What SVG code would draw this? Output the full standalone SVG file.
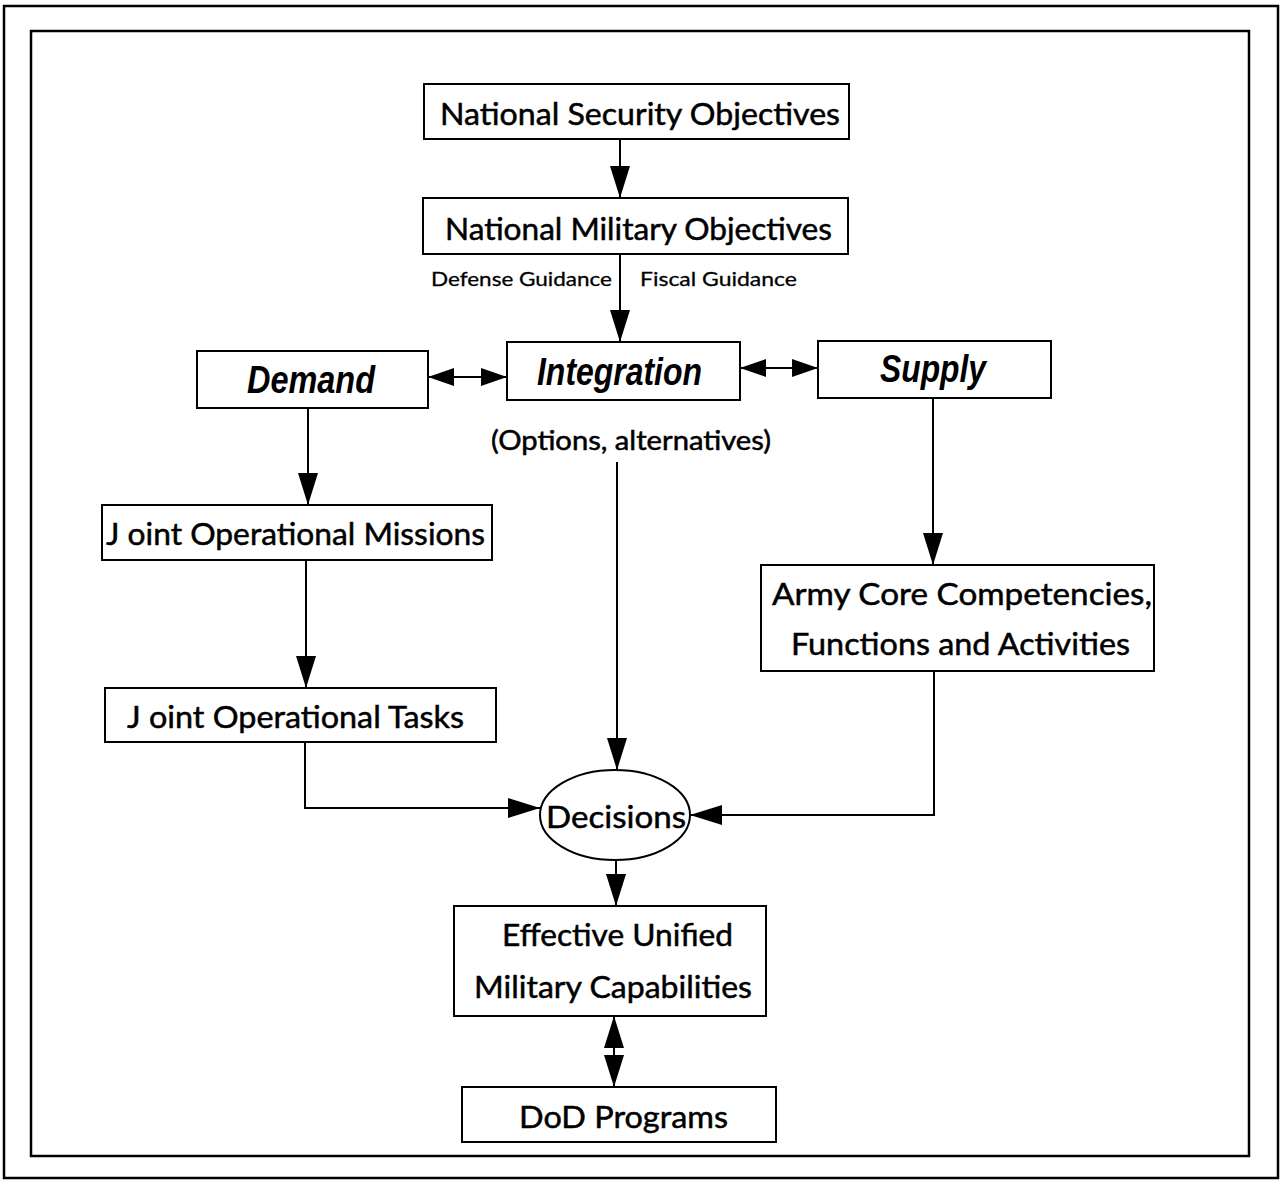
<svg xmlns="http://www.w3.org/2000/svg" width="1281" height="1180" viewBox="0 0 1281 1180">
<defs>
<style>
.box{fill:#fff;stroke:#000;stroke-width:2}
.t{font-family:Lato,"Open Sans","Liberation Sans",sans-serif;font-size:31px;fill:#000;stroke:#000;stroke-width:0.5}
.s{font-family:Lato,"Open Sans","Liberation Sans",sans-serif;font-size:20px;fill:#000;stroke:#000;stroke-width:0.3}
.b{font-family:"Liberation Sans",Arial,sans-serif;font-size:38px;font-weight:bold;font-style:italic;fill:#000}
.c{fill:none;stroke:#000;stroke-width:2}
</style>
<marker id="ah" viewBox="0 0 32 20" refX="32" refY="10" markerWidth="32" markerHeight="20" markerUnits="userSpaceOnUse" orient="auto-start-reverse">
<path d="M0,0 L32,10 L0,20 Z" fill="#000"/>
</marker>
<marker id="ah2" viewBox="0 0 26 18" refX="26" refY="9" markerWidth="26" markerHeight="18" markerUnits="userSpaceOnUse" orient="auto-start-reverse">
<path d="M0,0 L26,9 L0,18 Z" fill="#000"/>
</marker>
</defs>
<rect width="1281" height="1180" fill="#fff"/>
<rect x="4" y="6" width="1274" height="1172" fill="none" stroke="#000" stroke-width="2.5"/>
<rect x="31" y="31" width="1218" height="1125" fill="none" stroke="#000" stroke-width="2.5"/>

<g id="connectors">
<line class="c" x1="620" y1="139" x2="620" y2="198" marker-end="url(#ah)"/>
<line class="c" x1="620" y1="254" x2="620" y2="342" marker-end="url(#ah)"/>
<line class="c" x1="428" y1="377" x2="507" y2="377" marker-start="url(#ah2)" marker-end="url(#ah2)"/>
<line class="c" x1="740" y1="368" x2="818" y2="368" marker-start="url(#ah2)" marker-end="url(#ah2)"/>
<line class="c" x1="308" y1="408" x2="308" y2="505" marker-end="url(#ah)"/>
<line class="c" x1="306" y1="560" x2="306" y2="688" marker-end="url(#ah)"/>
<polyline class="c" points="305,742 305,808 540,808" marker-end="url(#ah)"/>
<line class="c" x1="617" y1="462" x2="617" y2="770" marker-end="url(#ah)"/>
<line class="c" x1="933" y1="398" x2="933" y2="565" marker-end="url(#ah)"/>
<polyline class="c" points="934,671 934,815 690,815" marker-end="url(#ah)"/>
<line class="c" x1="616" y1="860" x2="616" y2="906" marker-end="url(#ah)"/>
<line class="c" x1="614" y1="1016" x2="614" y2="1087" marker-start="url(#ah)" marker-end="url(#ah)"/>
</g>

<g id="nso">
<rect class="box" x="424" y="84" width="425" height="55"/>
<text class="t" x="440" y="125" textLength="400" lengthAdjust="spacingAndGlyphs">National Security Objectives</text>
</g>
<g id="nmo">
<rect class="box" x="423" y="198" width="425" height="56"/>
<text class="t" x="445" y="240" textLength="387" lengthAdjust="spacingAndGlyphs">National Military Objectives</text>
</g>
<g id="guidance-labels">
<text class="s" x="431" y="286" textLength="181" lengthAdjust="spacingAndGlyphs">Defense Guidance</text>
<text class="s" x="640" y="286" textLength="157" lengthAdjust="spacingAndGlyphs">Fiscal Guidance</text>
</g>
<g id="integration">
<rect class="box" x="507" y="342" width="233" height="58"/>
<text class="b" x="537" y="385" textLength="165" lengthAdjust="spacingAndGlyphs">Integration</text>
</g>
<g id="demand">
<rect class="box" x="197" y="351" width="231" height="57"/>
<text class="b" x="247" y="393" textLength="128" lengthAdjust="spacingAndGlyphs">Demand</text>
</g>
<g id="supply">
<rect class="box" x="818" y="341" width="233" height="57"/>
<text class="b" x="880" y="382" textLength="106" lengthAdjust="spacingAndGlyphs">Supply</text>
</g>
<g id="options-label">
<text class="t" x="491" y="450" style="font-size:26px" textLength="280" lengthAdjust="spacingAndGlyphs">(Options, alternatives)</text>
</g>
<g id="jom">
<rect class="box" x="102" y="505" width="390" height="55"/>
<text class="t" x="106" y="545" textLength="379" lengthAdjust="spacingAndGlyphs">J oint Operational Missions</text>
</g>
<g id="jot">
<rect class="box" x="105" y="688" width="391" height="54"/>
<text class="t" x="127" y="728" textLength="337" lengthAdjust="spacingAndGlyphs">J oint Operational Tasks</text>
</g>
<g id="army">
<rect class="box" x="761" y="565" width="393" height="106"/>
<text class="t" x="772" y="605" textLength="380" lengthAdjust="spacingAndGlyphs">Army Core Competencies,</text>
<text class="t" x="791" y="655" textLength="339" lengthAdjust="spacingAndGlyphs">Functions and Activities</text>
</g>
<g id="decisions">
<ellipse cx="615" cy="815" rx="75" ry="45" fill="#fff" stroke="#000" stroke-width="2"/>
<text class="t" x="546" y="828" textLength="140" lengthAdjust="spacingAndGlyphs">Decisions</text>
</g>
<g id="eumc">
<rect class="box" x="454" y="906" width="312" height="110"/>
<text class="t" x="502" y="946" textLength="231" lengthAdjust="spacingAndGlyphs">Effective Unified</text>
<text class="t" x="474" y="998" textLength="278" lengthAdjust="spacingAndGlyphs">Military Capabilities</text>
</g>
<g id="dod">
<rect class="box" x="462" y="1087" width="314" height="55"/>
<text class="t" x="519" y="1128" textLength="209" lengthAdjust="spacingAndGlyphs">DoD Programs</text>
</g>
</svg>
